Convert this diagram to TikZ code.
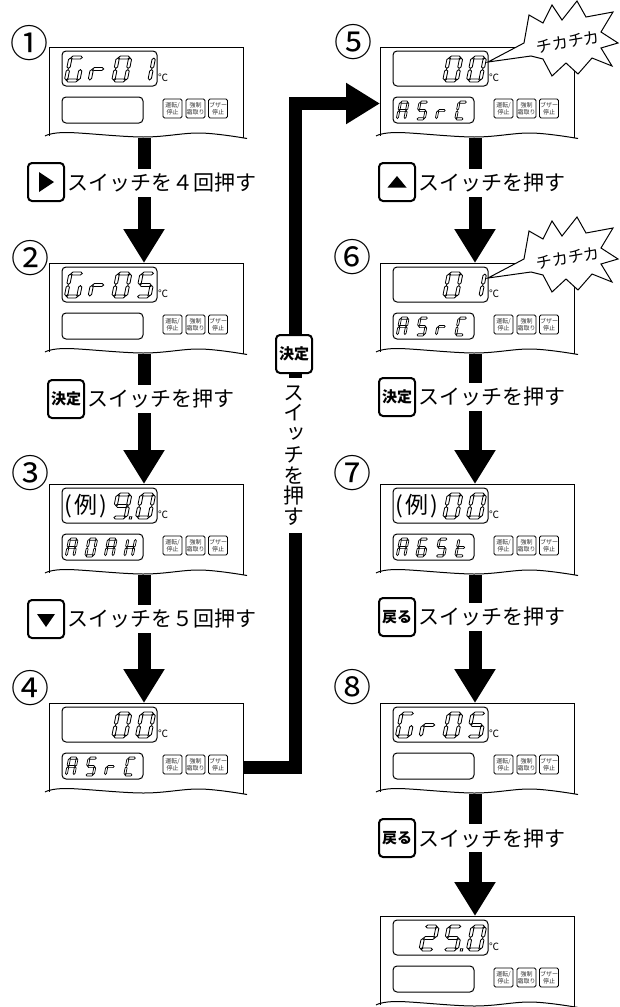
\documentclass[tikz,border=0pt]{standalone}
\usepackage{fontspec}
\setmainfont{Noto Sans CJK JP}
\newfontfamily\vjp[RawFeature=+vert]{Noto Sans CJK JP}
\usetikzlibrary{arrows.meta,calc}

\newcommand\hsg[1]{\draw[segst] (0.05,#1) -- (0.18,#1+0.13) -- (0.82,#1+0.13) -- (0.95,#1) -- (0.82,#1-0.13) -- (0.18,#1-0.13) -- cycle;}
\newcommand\vsg[2]{\draw[segst] (#1,#2+0.05) -- (#1+0.13,#2+0.18) -- (#1+0.13,#2+0.82) -- (#1,#2+0.95) -- (#1-0.13,#2+0.82) -- (#1-0.13,#2+0.18) -- cycle;}
\newcommand\SGa{\hsg{2}}
\newcommand\SGg{\hsg{1}}
\newcommand\SGd{\hsg{0}}
\newcommand\SGb{\vsg{1}{1}}
\newcommand\SGc{\vsg{1}{0}}
\newcommand\SGe{\vsg{0}{0}}
\newcommand\SGf{\vsg{0}{1}}
\newcommand\SGp{\draw[segst] (1.3,-0.13) rectangle (1.48,0.07);}

% upper display digit: L, T, cell index, segments
\newcommand\UD[4]{\begin{scope}[shift={(#1+15+23.7*#3,#2+35)},x=12.4pt,y=11.5pt,xslant=0.2,shift={(0.13,0.13)},segst/.style={draw,line width=0.85pt,line join=miter}]\foreach \s in {#4}{\csname SG\s\endcsname}\end{scope}}
% lower display digit
\newcommand\LD[4]{\begin{scope}[shift={(#1+16+19.5*#3,#2+73)},x=7.6pt,y=8.4pt,xslant=0.2,shift={(0.13,0.13)},segst/.style={draw,line width=0.7pt,line join=miter}]\foreach \s in {#4}{\csname SG\s\endcsname}\end{scope}}

\tikzset{
  pline/.style={line width=1pt},
  disp/.style={draw,line width=1pt,rounded corners=4pt},
  panelnode/.style={minimum width=194pt,minimum height=89pt,inner sep=0pt,outer sep=0pt},
  btn/.style={draw,line width=0.8pt,rounded corners=1.5pt,minimum width=19pt,minimum height=19pt,inner sep=0pt,
    font=\fontsize{6}{6.5}\selectfont,align=center,text=black!80},
  flow/.style={line width=13pt,-{Triangle[width=39pt,length=34pt]}},
  keybox/.style={draw,line width=2pt,rounded corners=4pt,minimum width=36pt,minimum height=38pt,inner sep=0pt,
    fill=white,font=\bfseries\fontsize{15}{15}\selectfont},
  lbl/.style={fill=white,inner sep=1pt,minimum height=28pt,font=\fontsize{21}{21}\selectfont,anchor=west},
  circnum/.style={font=\fontsize{38}{38}\selectfont,inner sep=0pt},
  degc/.style={font=\fontsize{10}{10}\selectfont,inner sep=0pt},
  reistyle/.style={font=\fontsize{23}{23}\selectfont,inner sep=0pt},
  bursttext/.style={font=\fontsize{16}{16}\selectfont,inner sep=0pt,rotate=10},
}

\newcommand\panel[3]{%
  \node[panelnode] (#1) at (#2+97,#3+44.5) {};
  \fill[white] (#2,#3) rectangle (#2+194,#3+89);
  \draw[pline] (#2,#3+88.6) -- (#2,#3) -- (#2+194,#3) -- (#2+194,#3+91.3);
  \draw[pline] plot[smooth,tension=0.6] coordinates {(#2-4,#3+89) (#2+18,#3+85.5) (#2+94,#3+90) (#2+151,#3+86) (#2+198,#3+91.5)};
  \draw[disp] (#2+13,#3+4) rectangle (#2+108,#3+39);
  \draw[disp] (#2+13,#3+50) rectangle (#2+94,#3+76);
  \node[degc] (#1-deg) at (#2+114,#3+30.5) {℃};
  \node[btn] (#1-b1) at (#2+123.5,#3+61.5) {運転/\\停止};
  \node[btn] (#1-b2) at (#2+146.5,#3+61.5) {強制\\霜取り};
  \node[btn] (#1-b3) at (#2+169,#3+61.5) {ブザー\\停止};
}
\newcommand\rei[3]{\node[reistyle] (#1) at (#2+37,#3+22) {(\hspace{2.5pt}例\hspace{2.5pt})};}
\newcommand\burst[2]{%
  \draw[pline,fill=white,line join=miter] (488,62+#2) -- (524,43+#2) -- (529,15+#2) -- (543,23+#2) -- (552,5+#2)
    -- (562,20+#2) -- (577,1+#2) -- (586,17+#2) -- (613,12+#2) -- (601,32+#2) -- (618,43+#2) -- (601,48+#2)
    -- (612,66+#2) -- (592,58+#2) -- (578,74+#2) -- (566,63+#2) -- (552,76+#2) -- (543,59+#2) -- (531,56+#2) -- cycle;
  \node[bursttext] (#1) at (568,42+#2) {チカチカ};
}

\begin{document}
\begin{tikzpicture}[x=1pt,y=-1pt]
\useasboundingbox (0,0) rectangle (619,1007);
\fill[white] (0,0) rectangle (619,1007);

% ---------- panels ----------
\panel{p1}{49}{47}
\UD{49}{47}{0}{a,c,d,e,f}\UD{49}{47}{1}{e,g}\UD{49}{47}{2}{a,b,c,d,e,f}\UD{49}{47}{3}{b,c}

\panel{p2}{49}{263}
\UD{49}{263}{0}{a,c,d,e,f}\UD{49}{263}{1}{e,g}\UD{49}{263}{2}{a,b,c,d,e,f}\UD{49}{263}{3}{a,c,d,f,g}

\panel{p3}{49}{484}
\rei{r3}{49}{484}
\UD{49}{484}{2}{a,b,c,d,f,g,p}\UD{49}{484}{3}{a,b,c,d,e,f}
\LD{49}{484}{0}{a,b,c,e,f,g}\LD{49}{484}{1}{a,b,c,d,e,f}\LD{49}{484}{2}{a,b,c,e,f,g}\LD{49}{484}{3}{b,c,e,f,g}

\panel{p4}{49}{703}
\UD{49}{703}{2}{a,b,c,d,e,f}\UD{49}{703}{3}{a,b,c,d,e,f}
\LD{49}{703}{0}{a,b,c,e,f,g}\LD{49}{703}{1}{a,c,d,f,g}\LD{49}{703}{2}{e,g}\LD{49}{703}{3}{a,d,e,f}

\panel{p5}{380}{47}
\UD{380}{47}{2}{a,b,c,d,e,f}\UD{380}{47}{3}{a,b,c,d,e,f}
\LD{380}{47}{0}{a,b,c,e,f,g}\LD{380}{47}{1}{a,c,d,f,g}\LD{380}{47}{2}{e,g}\LD{380}{47}{3}{a,d,e,f}

\panel{p6}{380}{263}
\UD{380}{263}{2}{a,b,c,d,e,f}\UD{380}{263}{3}{b,c}
\LD{380}{263}{0}{a,b,c,e,f,g}\LD{380}{263}{1}{a,c,d,f,g}\LD{380}{263}{2}{e,g}\LD{380}{263}{3}{a,d,e,f}

\panel{p7}{380}{484}
\rei{r7}{380}{484}
\UD{380}{484}{2}{a,b,c,d,e,f}\UD{380}{484}{3}{a,b,c,d,e,f}
\LD{380}{484}{0}{a,b,c,e,f,g}\LD{380}{484}{1}{a,c,d,e,f,g}\LD{380}{484}{2}{a,c,d,f,g}\LD{380}{484}{3}{d,e,f,g}

\panel{p8}{380}{703}
\UD{380}{703}{0}{a,c,d,e,f}\UD{380}{703}{1}{e,g}\UD{380}{703}{2}{a,b,c,d,e,f}\UD{380}{703}{3}{a,c,d,f,g}

\panel{p9}{380}{916}
\UD{380}{916}{1}{a,b,d,e,g}\UD{380}{916}{2}{a,c,d,f,g,p}\UD{380}{916}{3}{a,b,c,d,e,f}

\burst{b5}{0}
\burst{b6}{216}

% ---------- circled numbers ----------
\node[circnum] (n1) at (29,43) {①};
\node[circnum] (n2) at (30,258) {②};
\node[circnum] (n3) at (30,473) {③};
\node[circnum] (n4) at (30,688) {④};
\node[circnum] (n5) at (353,42) {⑤};
\node[circnum] (n6) at (352,257) {⑥};
\node[circnum] (n7) at (352,473) {⑦};
\node[circnum] (n8) at (352,687) {⑧};

% ---------- flow arrows ----------
\draw[flow] ($(p1.south)+(-2,2)$) -- ($(p2.north)+(-2,0)$);
\draw[flow] ($(p2.south)+(-2,2)$) -- ($(p3.north)+(-2,0)$);
\draw[flow] ($(p3.south)+(-2,2)$) -- ($(p4.north)+(-2,0)$);
\draw[flow] ($(p5.south)+(-2,2)$) -- ($(p6.north)+(-2,0)$);
\draw[flow] ($(p6.south)+(-2,2)$) -- ($(p7.north)+(-2,0)$);
\draw[flow] ($(p7.south)+(-2,2)$) -- ($(p8.north)+(-2,0)$);
\draw[flow] ($(p8.south)+(-2,2)$) -- ($(p9.north)+(-2,0)$);
\coordinate (q1) at (295,767.5);
\coordinate (q2) at (295,103.5);
\draw[flow,line join=miter] ($(p4.east)+(0,20)$) -- (q1) -- (q2) -- ($(p5.west)+(0,12)$);

% ---------- labels ----------
\node[keybox] (k1) at (46,182) {};
\fill ($(k1)+(-7,-10)$) -- ($(k1)+(8,0)$) -- ($(k1)+(-7,10)$) -- cycle;
\node[lbl] (t1) at (66,183) {スイッチを４回押す};

\node[keybox] (k2) at (66,399) {決定};
\node[lbl] (t2) at (86,399) {スイッチを押す};

\node[keybox] (k3) at (46,619) {};
\fill ($(k3)+(-9,-5)$) -- ($(k3)+(9,-5)$) -- ($(k3)+(0,8)$) -- cycle;
\node[lbl] (t3) at (66,619) {スイッチを５回押す};

\node[keybox] (k5) at (397,182) {};
\fill ($(k5)+(-9.5,5.5)$) -- ($(k5)+(9.5,5.5)$) -- ($(k5)+(0,-6)$) -- cycle;
\node[lbl] (t5) at (417,183) {スイッチを押す};

\node[keybox] (k6) at (397,397) {決定};
\node[lbl] (t6) at (417,397) {スイッチを押す};

\node[keybox] (k7) at (397,617) {戻る};
\node[lbl] (t7) at (417,617) {スイッチを押す};

\node[keybox] (k8) at (397,838) {戻る};
\node[lbl] (t8) at (417,838) {スイッチを押す};

\node[keybox] (kv) at (294,354) {決定};
\node[fill=white,inner xsep=2pt,inner ysep=8pt,align=center,font=\vjp\fontsize{21}{20.7}\selectfont] (tv) at (294,455.5) {ス\\イ\\ッ\\チ\\を\\押\\す};
\end{tikzpicture}
\end{document}
